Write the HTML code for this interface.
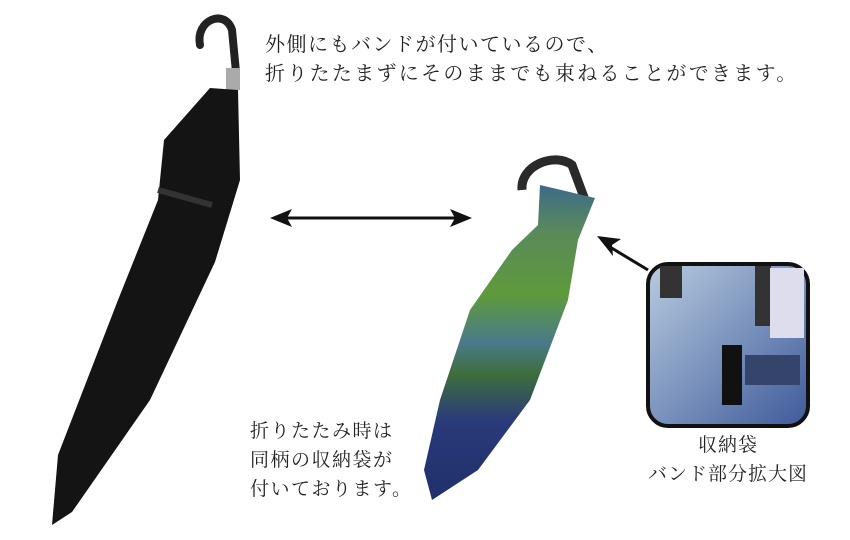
<!DOCTYPE html>
<html><head><meta charset="utf-8"><style>
body{margin:0;background:#fff;width:850px;height:540px;overflow:hidden;position:relative;font-family:"Liberation Serif","Noto Serif CJK SC",serif;color:#222}
.t{position:absolute;font-size:19px;line-height:29px;white-space:nowrap;letter-spacing:1px}
</style></head><body>
<svg width="850" height="540" style="position:absolute;left:0;top:0">
<defs>
<linearGradient id="g" x1="0" y1="0" x2="0" y2="1">
<stop offset="0" stop-color="#3c6a8a"/><stop offset="0.15" stop-color="#5a8a5a"/><stop offset="0.35" stop-color="#5e9a3c"/><stop offset="0.5" stop-color="#4a7a8a"/><stop offset="0.6" stop-color="#3e6e3c"/><stop offset="0.75" stop-color="#2a3a7a"/><stop offset="1" stop-color="#20306a"/>
</linearGradient>
<linearGradient id="in" x1="0" y1="0" x2="1" y2="1"><stop offset="0" stop-color="#b8cce0"/><stop offset="1" stop-color="#3e5a9a"/></linearGradient>
</defs>
<!-- black umbrella -->
<path d="M200,45 C195,20 225,8 232,30 L236,72" stroke="#222" stroke-width="8" fill="none" stroke-linecap="round"/>
<rect x="226" y="68" width="14" height="22" fill="#aaa"/>
<path d="M210,88 L238,90 L240,180 L215,262 L150,400 L72,512 L52,525 L58,455 L118,300 L158,200 L164,140 Z" fill="#141414"/>
<path d="M158,190 L212,205" stroke="#333" stroke-width="6"/>
<!-- folded umbrella -->
<path d="M522,190 C520,165 555,152 572,165 L585,200" stroke="#2a2a2a" stroke-width="9" fill="none"/>
<path d="M540,185 L595,198 L578,240 L568,300 L530,400 L478,470 L432,500 L424,470 L440,400 L470,310 L512,250 L538,225 Z" fill="url(#g)"/>
<!-- arrows -->
<line x1="278" y1="218" x2="464" y2="218" stroke="#111" stroke-width="3"/>
<path d="M270,218 L292,209 L287,218 L292,227 Z" fill="#111"/>
<path d="M472,218 L450,209 L455,218 L450,227 Z" fill="#111"/>
<line x1="648" y1="270" x2="605" y2="244" stroke="#111" stroke-width="3"/>
<path d="M597,236 L621,239 L612,245 L613,256 Z" fill="#111"/>
<!-- inset -->
<rect x="648" y="264" width="160" height="162" rx="20" fill="url(#in)" stroke="#111" stroke-width="4"/>
<rect x="660" y="266" width="22" height="32" fill="#333"/>
<rect x="755" y="266" width="16" height="60" fill="#333"/>
<rect x="770" y="268" width="34" height="70" fill="#dde"/>
<rect x="722" y="345" width="20" height="60" fill="#111"/>
<rect x="745" y="355" width="55" height="30" fill="#34446a"/>
</svg>
<div class="t" style="left:265px;top:31px;font-size:20px;letter-spacing:1.5px">外側にもバンドが付いているので、</div>
<div class="t" style="left:265px;top:60px;font-size:20px;letter-spacing:2.3px">折りたたまずにそのままでも束ねることができます。</div>
<div class="t" style="left:250px;top:417px;letter-spacing:1.5px">折りたたみ時は<br>同柄の収納袋が<br>付いております。</div>
<div class="t" style="left:636px;top:431px;text-align:center;width:184px">収納袋<br>バンド部分拡大図</div>
</body></html>
